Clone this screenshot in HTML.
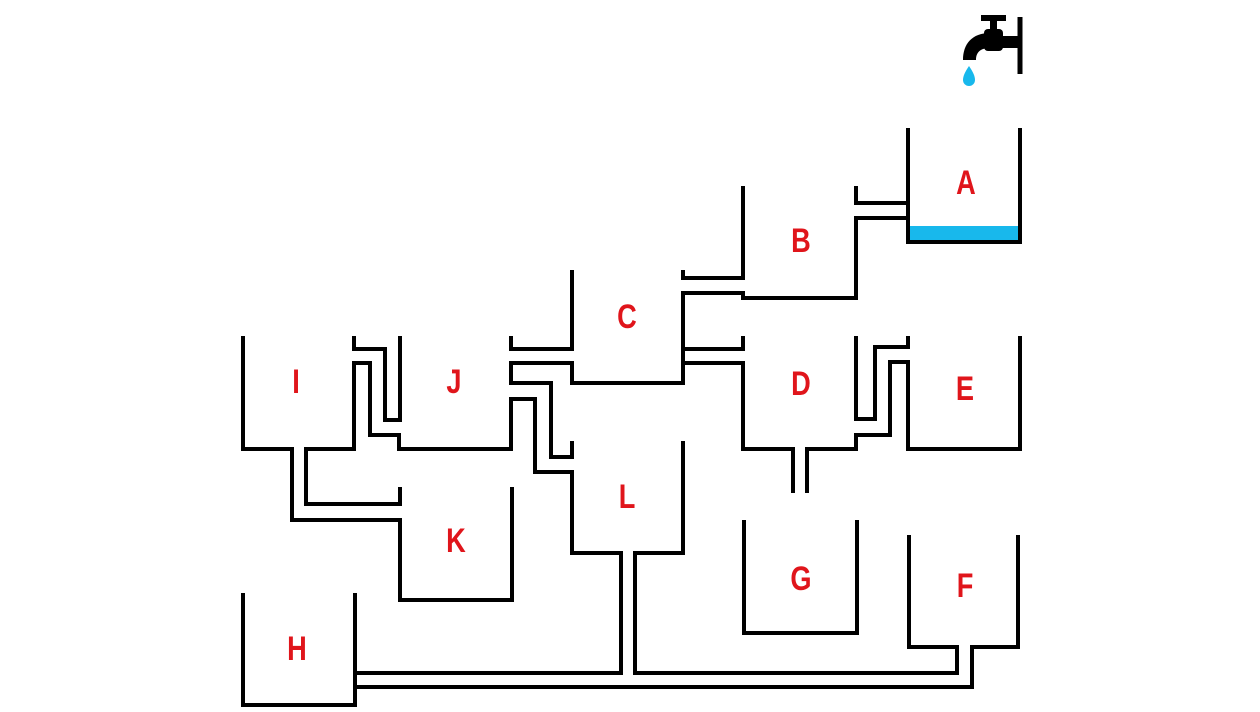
<!DOCTYPE html>
<html><head><meta charset="utf-8"><style>
html,body{margin:0;padding:0;background:#fff;}
svg{display:block;}
text{font-family:"Liberation Sans",sans-serif;font-weight:bold;fill:#e0151b;font-size:34px;text-anchor:middle;}
</style></head><body>
<svg width="1260" height="712" viewBox="0 0 1260 712">
<g fill="none" stroke="#000" stroke-width="4" stroke-linejoin="miter">
<rect x="910" y="226" width="108" height="14" fill="#18b8ec" stroke="none"/>
<polyline points="908,128 908,218 856,218 856,298 743,298 743,293 683,293 683,383 572,383 572,363 511,363 511,383 551,383 551,457 572,457 572,441"/>
<polyline points="908,128 908,242 1020,242 1020,128"/>
<polyline points="908,203 856,203 856,186"/>
<polyline points="743,186 743,278 683,278 683,270"/>
<polyline points="572,270 572,349 511,349 511,336"/>
<polyline points="683,349 743,349 743,336"/>
<polyline points="683,363 743,363 743,449 793,449 793,493"/>
<polyline points="807,493 807,449 856,449 856,435 890,435 890,362 908,362 908,449 1020,449 1020,336"/>
<polyline points="856,336 856,419 875,419 875,347 908,347 908,336"/>
<polyline points="243,336 243,449 292,449 292,520 400,520 400,600 512,600 512,487"/>
<polyline points="400,487 400,504 306,504 306,449 354,449 354,363 370,363 370,435 399,435 399,449 511,449 511,399 535,399 535,472 572,472 572,553 621,553 621,673 355,673"/>
<polyline points="354,336 354,349 385,349 385,420 400,420 400,336"/>
<polyline points="683,441 683,553 635,553 635,673 957,673 957,647 909,647 909,535"/>
<polyline points="1018,535 1018,647 972,647 972,687 355,687"/>
<polyline points="243,593 243,705 355,705 355,593"/>
<polyline points="744,520 744,633 857,633 857,520"/>
<line x1="1020" y1="17" x2="1020" y2="74" stroke-width="5"/>
</g>
<g fill="#000">
<rect x="981" y="15" width="25" height="6"/>
<rect x="990" y="18" width="7" height="14"/>
<rect x="984" y="29" width="19" height="22" rx="4"/>
<rect x="998" y="36" width="22" height="12"/>
<path d="M990,33 C972,33 963,44 963,60 L976,60 C976,51 982,48 990,48 Z"/>
</g>
<path d="M969,66 C965,72 963,76 963,80 A6,6 0 0 0 975,80 C975,76 973,72 969,66 Z" fill="#18b8ec"/>
<g transform="translate(966,194) scale(0.8,1)"><text>A</text></g>
<g transform="translate(801,252) scale(0.8,1)"><text>B</text></g>
<g transform="translate(627,328) scale(0.8,1)"><text>C</text></g>
<g transform="translate(801,395) scale(0.8,1)"><text>D</text></g>
<g transform="translate(965,400) scale(0.8,1)"><text>E</text></g>
<g transform="translate(296,393) scale(0.8,1)"><text>I</text></g>
<g transform="translate(454,393) scale(0.8,1)"><text>J</text></g>
<g transform="translate(456,552) scale(0.8,1)"><text>K</text></g>
<g transform="translate(627,508) scale(0.8,1)"><text>L</text></g>
<g transform="translate(801,590) scale(0.8,1)"><text>G</text></g>
<g transform="translate(965,597) scale(0.8,1)"><text>F</text></g>
<g transform="translate(297,660) scale(0.8,1)"><text>H</text></g>
</svg>
</body></html>
